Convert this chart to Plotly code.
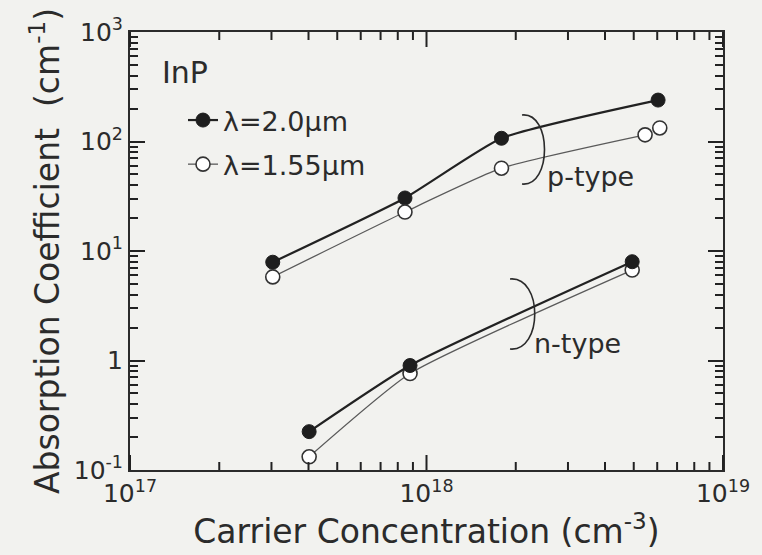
import math
import plotly.graph_objects as go

# Carrier concentration (cm^-3) and absorption coefficient (cm^-1) for InP
p_x_20 = [3.03e17, 8.46e17, 1.79e18, 6.04e18]
p_y_20 = [7.9, 30.5, 107, 239]
p_x_155 = [3.03e17, 8.46e17, 1.79e18, 5.46e18, 6.12e18]
p_y_155 = [5.8, 22.7, 57, 115, 133]

n_x_20 = [4.02e17, 8.8e17, 4.94e18]
n_y_20 = [0.224, 0.90, 7.98]
n_x_155 = [4.02e17, 8.8e17, 4.94e18]
n_y_155 = [0.132, 0.76, 6.7]

x_tickvals = [1e17, 1e18, 1e19]
x_ticktext = ["10<sup>17</sup>", "10<sup>18</sup>", "10<sup>19</sup>"]
y_tickvals = [0.1, 1, 10, 100, 1000]
y_ticktext = ["10<sup>-1</sup>", "1", "10<sup>1</sup>", "10<sup>2</sup>", "10<sup>3</sup>"]

FONT = "DejaVu Sans, Verdana, sans-serif"
INK = "#2b2b2b"
TICK = "#222222"
BG = "#f2f2ef"

W, H = 762, 555
M = dict(l=130, r=39, t=32, b=85)
PW = W - M["l"] - M["r"]
PH = H - M["t"] - M["b"]
X_RANGE = [17, 19]


def px2paper(px, py):
    return (px - M["l"]) / PW, (H - M["b"] - py) / PH


fig = go.Figure()

dark = dict(color="#222222", width=2.2, shape="spline", smoothing=0.5)
light = dict(color="#5a5a5a", width=1.3, shape="spline", smoothing=0.5)
filled = dict(symbol="circle", size=14, color="#1e1e1e", line=dict(color="#1e1e1e", width=1))
hollow = dict(symbol="circle", size=14, color="white", line=dict(color="#333333", width=1.6))

fig.add_trace(go.Scatter(x=p_x_20, y=p_y_20, mode="lines+markers", line=dark,
                         marker=filled, name="λ=2.0µm", legendgroup="a"))
fig.add_trace(go.Scatter(x=p_x_155[:4], y=p_y_155[:4], mode="lines+markers", line=light,
                         marker=hollow, name="λ=1.55µm", legendgroup="b"))
fig.add_trace(go.Scatter(x=p_x_155[4:], y=p_y_155[4:], mode="markers",
                         marker=hollow, showlegend=False, legendgroup="b"))
fig.add_trace(go.Scatter(x=n_x_155, y=n_y_155, mode="lines+markers", line=light,
                         marker=hollow, showlegend=False, legendgroup="b"))
fig.add_trace(go.Scatter(x=n_x_20, y=n_y_20, mode="lines+markers", line=dark,
                         marker=filled, showlegend=False, legendgroup="a"))


# Brackets grouping the p-type and n-type curve pairs
def bracket(top, bulge, bottom):
    (x0, y0), (cx, _), (x1, y1) = top, bulge, bottom
    a = px2paper(x0, y0)
    c1 = px2paper(cx, y0 - 3)
    c2 = px2paper(cx, y1 + 3)
    b = px2paper(x1, y1)
    return f"M {a[0]},{a[1]} C {c1[0]},{c1[1]} {c2[0]},{c2[1]} {b[0]},{b[1]}"


for path in (bracket((522, 115), (552, 150), (522, 184)),
             bracket((510, 279), (543, 314), (510, 349))):
    fig.add_shape(type="path", path=path, xref="paper", yref="paper",
                  line=dict(color=INK, width=1.6))

ann_font = dict(family=FONT, size=27, color=INK)
for label, (px, py) in (("p-type", (545, 177)), ("n-type", (532, 343))):
    ax, ay = px2paper(px, py)
    fig.add_annotation(text=label, x=ax, y=ay, xref="paper", yref="paper",
                       xanchor="left", yanchor="middle", showarrow=False, font=ann_font)

ix, iy = px2paper(160, 72)
fig.add_annotation(text="InP", x=ix, y=iy, xref="paper", yref="paper",
                   xanchor="left", yanchor="middle", showarrow=False,
                   font=dict(family=FONT, size=30, color=INK))

# Inward log ticks on the bottom and top frame edges (x axis)
major_len, minor_len = 15 / PH, 8 / PH
for e in range(X_RANGE[0], X_RANGE[1] + 1):
    for k in range(1, 10):
        if e == X_RANGE[1] and k > 1:
            break
        frac = (math.log10(k * 10.0 ** e) - X_RANGE[0]) / (X_RANGE[1] - X_RANGE[0])
        ln = major_len if k == 1 else minor_len
        for base, sign in ((0, 1), (1, -1)):
            fig.add_shape(type="line", xref="x domain", yref="y domain",
                          x0=frac, x1=frac, y0=base, y1=base + sign * ln,
                          line=dict(color=TICK, width=2))

tick_style = dict(ticklen=15, tickwidth=2, tickcolor=TICK)
minor_style = dict(ticklen=8, tickwidth=2, tickcolor=TICK, dtick="D1", showgrid=False)

fig.update_xaxes(
    type="log", range=X_RANGE, tickmode="array",
    tickvals=x_tickvals, ticktext=x_ticktext,
    showline=True, linecolor=INK, linewidth=2, mirror=True,
    ticks="", showgrid=False, zeroline=False,
    tickfont=dict(family=FONT, size=25, color=INK),
    title=dict(text="Carrier Concentration (cm<sup>-3</sup>)",
               font=dict(family=FONT, size=33, color=INK), standoff=2),
)
fig.update_yaxes(
    type="log", range=[-1, 3], tickmode="array",
    tickvals=y_tickvals, ticktext=y_ticktext,
    showline=True, linecolor=INK, linewidth=2, mirror="allticks",
    ticks="inside", minor=dict(ticks="inside", **minor_style), **tick_style,
    showgrid=False, zeroline=False,
    tickfont=dict(family=FONT, size=25, color=INK),
    title=dict(text="Absorption Coefficient  (cm<sup>-1</sup>)",
               font=dict(family=FONT, size=33, color=INK), standoff=4),
)

lx, ly = px2paper(183, 96)
fig.update_layout(
    width=W, height=H, margin=M,
    paper_bgcolor=BG, plot_bgcolor=BG,
    font=dict(family=FONT, color=INK),
    legend=dict(x=lx, y=ly, xanchor="left", yanchor="top",
                bgcolor="rgba(0,0,0,0)", borderwidth=0,
                font=dict(family=FONT, size=27, color=INK),
                tracegroupgap=6, itemsizing="trace"),
)

fig.write_html("out.html")
